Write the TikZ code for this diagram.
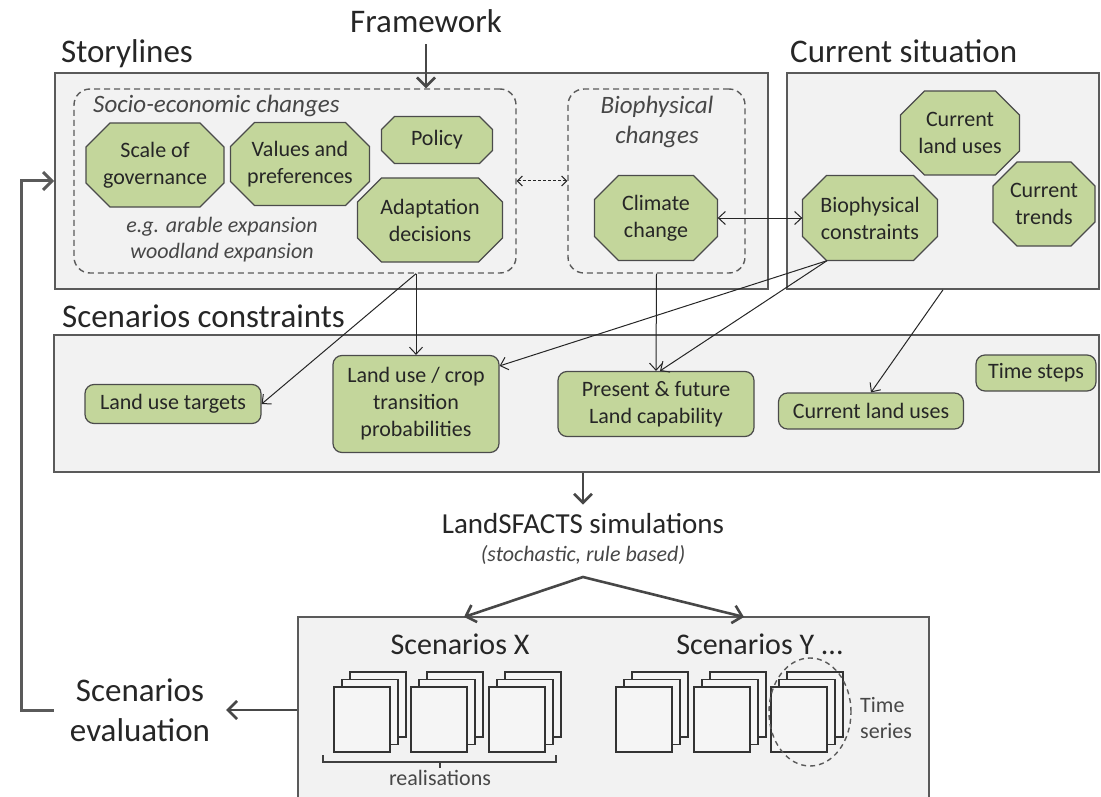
\documentclass[tikz,border=0pt]{standalone}
\usepackage{fontspec}
\setmainfont{Carlito}
\usetikzlibrary{arrows.meta}

\definecolor{panelfill}{HTML}{F2F2F2}
\definecolor{panelline}{HTML}{5A5A5A}
\definecolor{leaf}{HTML}{C3D69B}
\definecolor{leafline}{HTML}{4B4B4B}
\definecolor{ink}{HTML}{262626}

\tikzset{
  panel/.style={draw=panelline,fill=panelfill,line width=1.6pt,inner sep=0pt},
  group/.style={draw=panelline,dash pattern=on 6pt off 4pt,line width=1.4pt,rounded corners=16pt,inner sep=0pt},
  heading/.style={font=\fontsize{33}{40}\selectfont,text=ink,inner sep=0pt},
  theme/.style={font=\fontsize{25}{30}\selectfont\itshape,text=ink!85,inner sep=0pt,align=center},
  driver/.style={draw=leafline,fill=leaf,line width=1.2pt},
  drivertext/.style={rectangle,inner sep=0pt,align=center,text=ink,font=\fontsize{22}{27}\selectfont},
  limit/.style={rectangle,rounded corners=9pt,draw=leafline,fill=leaf,line width=1.2pt,
    text=ink,align=center,font=\fontsize{22}{27}\selectfont,inner sep=0pt},
  link/.style={draw=ink,line width=1pt,-{Straight Barb[length=7pt,width=13pt]}},
  flow/.style={draw=ink!85,line width=2.6pt,-{Straight Barb[length=9pt,width=18pt]}},
  page/.style={draw=black!80,fill=white!96!black,line width=1.2pt}
}

% octagon: [cut]{name}{x}{y}{width}{height}{text}
\newcommand\drivernode[7][24]{%
  \draw[driver,shift={(#3,#4)}] ({-#5/2+#1},{-#6/2}) -- ({#5/2-#1},{-#6/2}) -- ({#5/2},{-#6/2+#1})
    -- ({#5/2},{#6/2-#1}) -- ({#5/2-#1},{#6/2}) -- ({-#5/2+#1},{#6/2}) -- ({-#5/2},{#6/2-#1})
    -- ({-#5/2},{-#6/2+#1}) -- cycle;
  \node[drivertext,minimum width=#5pt,minimum height=#6pt] (#2) at (#3,#4) {#7};
}

\begin{document}
\begin{tikzpicture}[x=1pt,y=-1pt]
\useasboundingbox (0,0) rectangle (1101,797);

% panels
\node[panel,minimum width=713pt,minimum height=216pt] (story) at (411.5,181) {};
\node[panel,minimum width=312pt,minimum height=216pt] (cur) at (943,181) {};
\node[panel,minimum width=1045pt,minimum height=137pt] (cons) at (576.5,403.5) {};
\node[panel,minimum width=631pt,minimum height=198pt] (scen) at (613.5,716) {};
\node[group,minimum width=442pt,minimum height=184pt] (socio) at (295,181) {};
\node[group,minimum width=177pt,minimum height=184pt] (bio) at (656.5,181) {};

% titles
\node[heading,anchor=base] (frame) at (426,33) {Framework};
\node[heading,anchor=base west] (storylbl) at (61,63) {Storylines};
\node[heading,anchor=base west] (curlbl) at (790,63) {Current situation};
\node[heading,anchor=base west] (conslbl) at (62,327) {Scenarios constraints};
\node[theme,anchor=base west] (sociolbl) at (93,113) {Socio-economic changes};
\node[theme] (biolbl) at (657,122) {Biophysical\\changes};
\node[theme,font=\fontsize{22}{26}\selectfont\itshape] (eg) at (222,240) {e.g. arable expansion\\woodland expansion};

% drivers
\drivernode{gov}{155}{165}{138}{84}{Scale of\\governance}
\drivernode{pref}{300}{164}{139}{83}{Values and\\preferences}
\drivernode[13]{policy}{437}{140}{111}{47}{Policy}
\drivernode{adapt}{430}{220}{145}{84}{Adaptation\\decisions}
\drivernode{climate}{656}{218}{123}{85}{Climate\\change}
\drivernode{limits}{870}{218}{135}{85}{Biophysical\\constraints}
\drivernode{landuse}{960}{133}{119}{84}{Current\\land uses}
\drivernode{trends}{1044}{204}{102}{84}{Current\\trends}

% constraints
\node[limit,minimum width=176pt,minimum height=39pt] (targets) at (173,404) {Land use targets};
\node[limit,minimum width=166pt,minimum height=97pt] (trans) at (416,404) {Land use / crop\\transition\\probabilities};
\node[limit,minimum width=196pt,minimum height=65pt] (capab) at (656,404) {Present \& future\\Land capability};
\node[limit,minimum width=185pt,minimum height=36pt] (nowuse) at (871,411) {Current land uses};
\node[limit,minimum width=120pt,minimum height=36pt] (tsteps) at (1036,373) {Time steps};

% simulations and results
\node[heading,font=\fontsize{29}{35}\selectfont,anchor=base] (sim) at (583,533) {LandSFACTS simulations};
\node[theme,font=\fontsize{22}{26}\selectfont\itshape,anchor=base] (note) at (583,561) {(stochastic, rule based)};
\node[heading,font=\fontsize{30}{36}\selectfont,anchor=base] (scx) at (460,654) {Scenarios X};
\node[heading,font=\fontsize{30}{36}\selectfont,anchor=base] (scy) at (760,654) {Scenarios Y ...};
\node[heading,align=center,inner xsep=16pt] (eval) at (140,710) {Scenarios\\evaluation};

\foreach \px in {334,411,489,616,694,771}
  \foreach \k in {2,1,0}
    \draw[page] (\px+8*\k,687-7.5*\k) rectangle ++(56,65);

\draw[line width=1.2pt,draw=black!75] (323,755) -- (323,762) -- (556,762) -- (556,755) (440,762) -- (440,768);
\node[theme,font=\fontsize{22}{26}\selectfont,anchor=base] (real) at (440,785) {realisations};
\draw[draw=panelline,line width=1.4pt,dash pattern=on 5pt off 4pt] (810,712) ellipse [x radius=41pt,y radius=54pt];
\node[theme,font=\fontsize{22}{26}\selectfont,align=left,anchor=west] (tseries) at (860,718) {Time\\series};

% connectors
\coordinate (fork) at (583,577);
\coordinate (xin) at (464,617);
\coordinate (yin) at (744,617);
\coordinate (loop) at (21,0);

\draw[flow,shorten <=11pt] (frame.south) -- (frame.south |- socio.north);
\draw[link,{Straight Barb[length=5pt,width=10pt]}-{Straight Barb[length=5pt,width=10pt]},dash pattern=on 3pt off 2pt] (socio.east) -- (bio.west);
\draw[link,{Straight Barb[length=7pt,width=13pt]}-{Straight Barb[length=7pt,width=13pt]}] (climate.east) -- (limits.west);
\draw[link] (trans.north |- socio.south) -- (trans.north);
\draw[link] (trans.north |- socio.south) -- (targets.east);
\draw[link] (bio.south) -- (capab.north);
\draw[link] ([xshift=-43pt]limits.south) -- ([xshift=4pt]capab.north);
\draw[link] ([xshift=-43pt]limits.south) -- ([yshift=-11pt]trans.north east);
\draw[link] (cur.south) -- (nowuse.north);
\draw[flow,shorten >=8pt] (sim.north |- cons.south) -- (sim.north);
\draw[flow,{Straight Barb[length=9pt,width=18pt]}-{Straight Barb[length=9pt,width=18pt]}] (xin) -- (fork) -- (yin);
\draw[flow] (scen.west |- eval.east) -- (eval.east);
\draw[flow,draw=panelline,line width=3pt] (eval.west) -| (loop |- story.west) -- (story.west);

\end{tikzpicture}
\end{document}
